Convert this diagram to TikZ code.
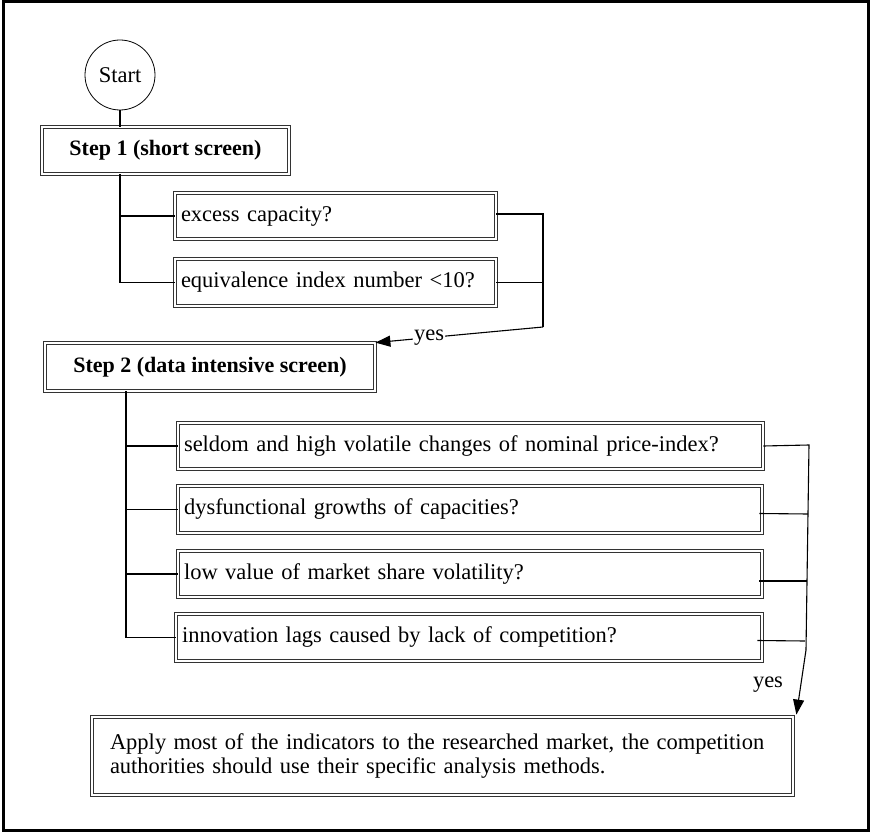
\documentclass[tikz,border=0pt]{standalone}
\usepackage{fontspec}
\setmainfont{Liberation Serif}
\usepackage{tikz}
\usetikzlibrary{arrows.meta}

\begin{document}
\begin{tikzpicture}[x=1pt, y=-1pt,
  every node/.style={font=\fontsize{22.5}{24}\selectfont},
  dbl/.style={draw=black!80, double=white, double distance=2pt, line width=0.8pt},
  startnode/.style={circle, draw, line width=0.8pt, minimum size=70pt, inner sep=0pt},
  stepbox/.style={dbl, rectangle, inner sep=0pt, font=\fontsize{22}{24}\selectfont\bfseries},
  qbox/.style={dbl, rectangle, inner xsep=6pt, inner ysep=0pt, align=left},
  link/.style={line width=1.1pt},
  tip/.style={-{Triangle[length=15pt, width=11pt]}}]
\useasboundingbox (0,0) rectangle (871,832);
\draw[line width=3pt] (3,1.5) rectangle (868.5,830.5);

% step 1
\node[startnode] (start) at (120,75) {Start};
\node[stepbox, minimum width=247pt, minimum height=47pt] (step1) at (165.5,150.5) {Step 1 (short screen)};
\node[qbox, text width=309pt, minimum height=46pt] (excess) at (335.5,216) {excess capacity?};
\node[qbox, text width=309pt, minimum height=47pt] (equiv) at (335.5,282.5) {equivalence index number <10?};

\draw[link] (start) -- (start |- step1.north);
\draw[link] (start |- step1.south) -- (start |- equiv.west) -- (equiv.west);
\draw[link] (start |- excess.west) -- (excess.west);

\coordinate (merge1) at (543,327);
\draw[link] ([yshift=2pt]excess.east) -| (merge1);
\draw[link] (equiv.east) -| (merge1);

% step 2
\node[stepbox, minimum width=330pt, minimum height=48pt] (step2) at (210,367) {Step 2 (data intensive screen)};
\draw[link, tip] (merge1) -- node[pos=0.68, fill=white, inner sep=1pt] {yes} (step2.north east);

\node[qbox, text width=573pt, minimum height=46pt] (seldom) at (470.5,446) {seldom and high volatile changes of nominal price-index?};
\node[qbox, text width=572pt, minimum height=47pt] (growth) at (470,509.5) {dysfunctional growths of capacities?};
\node[qbox, text width=572pt, minimum height=46pt] (share) at (470,574) {low value of market share volatility?};
\node[qbox, text width=574pt, minimum height=47pt] (innov) at (469,637.5) {innovation lags caused by lack of competition?};

\coordinate (trunk2) at (126,0);
\draw[line width=2.6pt] (trunk2 |- step2.south) -- (trunk2 |- innov.west);
\foreach \q in {seldom, growth, share, innov}
  \draw[link] (trunk2 |- \q.west) -- (\q.west);

% result
\node[dbl, rectangle, minimum width=701pt, minimum height=78pt, inner xsep=18pt, text width=665pt, align=left] (final) at (442.5,756)
  {Apply most of the indicators to the researched market, the competition\\authorities should use their specific analysis methods.};

\coordinate (merge2) at (809,445);
\coordinate (bend2) at (806,650);
\draw[link] (seldom.east) -- (merge2) -- (bend2);
\draw[link, tip] (bend2) -- ([xshift=3pt, yshift=2pt]final.north east);
\draw[link] ([xshift=-3pt, yshift=-4pt]growth.east) -- (808,514);
\draw[link] ([xshift=-3pt, yshift=-7pt]share.east) -- (807,581);
\draw[link] ([xshift=-5pt, yshift=-3pt]innov.east) -- (805,641);
\node at (768,685) {yes};
\end{tikzpicture}
\end{document}
